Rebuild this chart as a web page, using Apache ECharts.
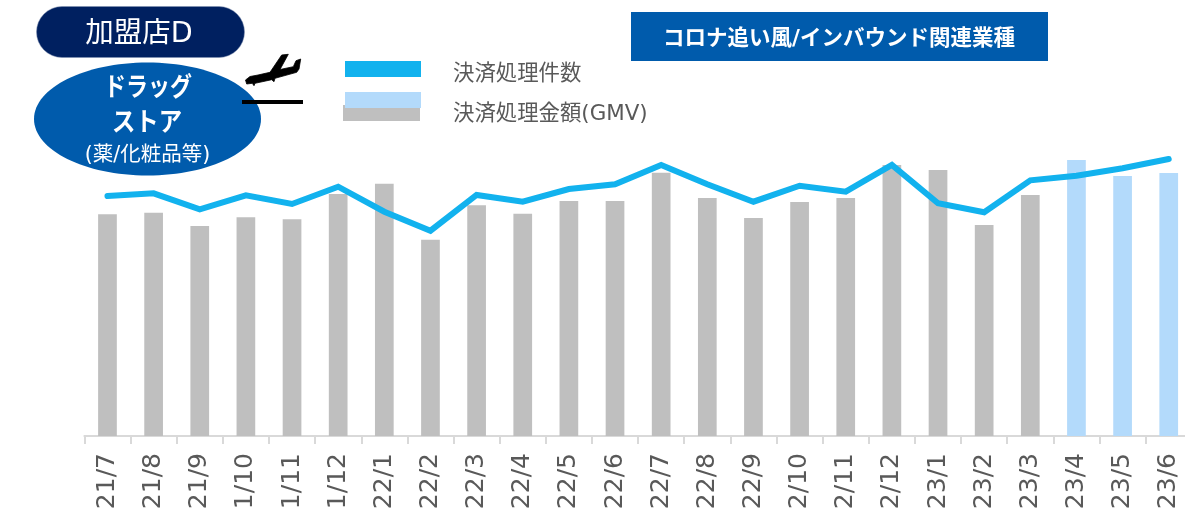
<!DOCTYPE html>
<html><head><meta charset="utf-8">
<style>html,body{margin:0;padding:0;background:#fff}#c{width:1185px;height:510px}</style>
<script src="https://cdn.jsdelivr.net/npm/echarts@6/dist/echarts.min.js"></script>
</head><body><div id="c"></div>
<script>
const categories = ['21/7','21/8','21/9','1/10','1/11','1/12','22/1','22/2','22/3','22/4','22/5','22/6','22/7','22/8','22/9','2/10','2/11','2/12','23/1','23/2','23/3','23/4','23/5','23/6'];
const gmv = [221.7,223.3,210,218.7,216.7,242,252.3,196.3,230.7,222.3,235,235,263.3,238,218,234,238,271,266,211,241,276,260,263];
const count = [240,242.7,226.7,240.7,232,249.3,224.3,205.3,241,234.3,247,251.7,271,251.7,234.3,250.3,244.3,271,232.7,223.7,255.7,260.3,267.7,277];
const forecastFrom = 21;
const seriesNames = ['決済処理件数','決済処理金額(GMV)'];
const colors = {line:'#12B2EE', bar:'#BFBFBF', barLight:'#B3DAFB', navy:'#002060', blue:'#005BAC', text:'#595959'};
const jp = '"DejaVu Sans","Noto Sans CJK JP",sans-serif';
const label = (x,y,text,size,fill,weight,align,sx) => ({type:'text',z:20,x,y,scaleX:sx||1,style:{x:0,y:0,text,fontSize:size,fontFamily:jp,fontWeight:weight||'normal',fill,align:align||'center',verticalAlign:'middle'}});
const chart = echarts.init(document.getElementById('c'),null,{renderer:'canvas'});
chart.setOption({
  animation:false,
  backgroundColor:'#fff',
  grid:{left:84.4,top:136,width:1107.4,height:300,containLabel:false,outerBoundsMode:'none'},
  xAxis:{type:'category',data:categories,boundaryGap:true,
    axisLine:{show:true,lineStyle:{color:'#D9D9D9',width:2}},
    axisTick:{show:true,length:8,lineStyle:{color:'#D9D9D9',width:2},alignWithLabel:false},
    axisLabel:{interval:0,rotate:90,margin:17,fontSize:25,padding:[8,0,0,0],color:colors.text,fontFamily:'"DejaVu Sans",sans-serif'}},
  yAxis:{type:'value',min:0,max:300,show:false,splitLine:{show:false}},
  series:[
    {name:seriesNames[1],type:'bar',barWidth:18.7,silent:true,z:2,
      data:gmv.map((v,i)=>({value:v,itemStyle:{color:i>=forecastFrom?colors.barLight:colors.bar}}))},
    {name:seriesNames[0],type:'line',data:count,showSymbol:false,smooth:false,z:3,silent:true,
      lineStyle:{color:colors.line,width:6,cap:'round',join:'miter'}}
  ],
  graphic:[
    {type:'rect',z:10,shape:{x:36.5,y:6.5,width:208,height:51,r:25.5},style:{fill:colors.navy,stroke:'#8090B0',lineWidth:0.5}},
    label(139,35,'加盟店D',28.5,'#fff','normal'),
    {type:'ellipse',z:10,shape:{cx:147.5,cy:119,rx:113.5,ry:56.5},style:{fill:colors.blue}},
    label(148,89,'ドラッグ',26,'#fff','bold','center',0.845),
    label(147,124,'ストア',26,'#fff','bold','center',0.9),
    label(147.5,156,'(薬/化粧品等)',20.5,'#fff'),
    {type:'polygon',z:10,shape:{points:[[245.5,80],[250,76.5],[258,75],[270,72.3],[281.7,55],[288.3,54.3],[280,69.5],[293.3,66.7],[296,60.7],[300.7,59],[299,69],[296.7,72.3],[275,78.3],[274,81.7],[271.7,79.7],[255,83.3],[254,85.7],[252.3,83.3],[246.7,84]]},style:{fill:'#000',stroke:'#000',lineWidth:0.8}},
    {type:'rect',z:10,shape:{x:242,y:100,width:61,height:4},style:{fill:'#000'}},
    {type:'rect',z:10,shape:{x:345,y:61,width:76,height:16},style:{fill:colors.line}},
    {type:'rect',z:10,shape:{x:343,y:105,width:77,height:16},style:{fill:colors.bar}},
    {type:'rect',z:11,shape:{x:345,y:92,width:76,height:16},style:{fill:colors.barLight}},
    label(453,74,seriesNames[0],21.4,colors.text,'normal','left'),
    label(453,114,seriesNames[1],21.4,colors.text,'normal','left'),
    {type:'rect',z:10,shape:{x:631,y:12,width:417,height:49},style:{fill:colors.blue}},
    label(839,39,'コロナ追い風/インバウンド関連業種',21.5,'#fff','bold')
  ]
});
</script></body></html>
